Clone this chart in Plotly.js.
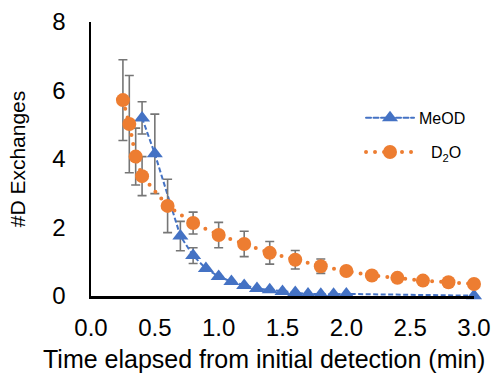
<!DOCTYPE html>
<html><head><meta charset="utf-8">
<script src="https://cdn.plot.ly/plotly-3.0.1.min.js"></script>
<style>
html,body{margin:0;padding:0;background:#fff}
.scatterlayer .trace:nth-child(2) path.js-line{stroke-linecap:round}
</style>
</head><body><div id="chart" style="width:491px;height:376px"></div>
<script>
// MeOD series
const meodTime   = [0.4, 0.5, 0.7, 0.8, 0.9, 1.0, 1.1, 1.2, 1.3, 1.4, 1.5, 1.6, 1.7, 1.8, 1.9, 2.0, 3.0];
const meodValues = [5.20, 4.15, 1.75, 1.18, 0.80, 0.57, 0.42, 0.31, 0.22, 0.18, 0.13, 0.10, 0.06, 0.05, 0.05, 0.06, 0.01];
const meodErr    = [0.47, 1.16, 0.43, 0.23, null, null, null, null, null, null, null, null, null, null, null, null, null];
// D2O series
const d2oTime    = [0.25, 0.3, 0.35, 0.4, 0.6, 0.8, 1.0, 1.2, 1.4, 1.6, 1.8, 2.0, 2.2, 2.4, 2.6, 2.8, 3.0];
const d2oValues  = [5.72, 5.02, 4.07, 3.50, 2.63, 2.13, 1.78, 1.52, 1.26, 1.06, 0.87, 0.73, 0.60, 0.53, 0.45, 0.40, 0.35];
const d2oErr     = [1.18, 1.42, 0.83, 0.57, 0.78, 0.32, 0.37, 0.37, 0.33, 0.27, 0.21, null, null, null, null, null, null];
// axes
const xTickVals = [0, 0.5, 1.0, 1.5, 2.0, 2.5, 3.0];
const xTickText = ['0.0', '0.5', '1.0', '1.5', '2.0', '2.5', '3.0'];
const yTickVals = [0, 2, 4, 6, 8];
const xTitle = 'Time elapsed from initial detection (min)';
const yTitle = '#D Exchanges';
const seriesNames = ['MeOD', '\u2002\u2005D<sub>2</sub>O'];

const FONT = 'Liberation Sans, Arial, sans-serif';
const blue = '#4472C4', orange = '#ED7D31', errCol = '#767676';

const traces = [
  {
    x: meodTime, y: meodValues, name: seriesNames[0], type: 'scatter', mode: 'lines+markers',
    line: {color: blue, width: 2, dash: '5px,2.5px'},
    marker: {symbol: 'triangle-up', size: 14, color: blue},
    error_y: {type: 'data', array: meodErr, visible: true, color: errCol, thickness: 1.6, width: 4.5},
    cliponaxis: false, legend: 'legend'
  },
  {
    x: d2oTime, y: d2oValues, name: seriesNames[1], type: 'scatter', mode: 'lines+markers',
    line: {color: orange, width: 4, dash: '0px,9px'},
    marker: {symbol: 'circle', size: 14, color: orange},
    error_y: {type: 'data', array: d2oErr, visible: true, color: errCol, thickness: 1.6, width: 4.5},
    cliponaxis: false, legend: 'legend2'
  }
];

const layout = {
  width: 491, height: 376,
  margin: {l: 91, r: 17, t: 22, b: 80},
  paper_bgcolor: '#fff', plot_bgcolor: '#fff',
  font: {family: FONT, color: '#000', size: 24},
  showlegend: true,
  xaxis: {
    range: [0, 3], tickvals: xTickVals, ticktext: xTickText,
    showgrid: false, zeroline: false, showline: true, linecolor: '#000', linewidth: 2.5,
    ticks: '', ticklabelstandoff: 9,
    tickfont: {family: FONT, size: 24, color: '#000'}
  },
  yaxis: {
    range: [0, 8], tickvals: yTickVals,
    showgrid: false, zeroline: false, showline: true, linecolor: '#000', linewidth: 2.5,
    ticks: '', ticklabelstandoff: 18,
    tickfont: {family: FONT, size: 24, color: '#000'},
    title: {text: yTitle, font: {family: FONT, size: 21, color: '#000'}, standoff: 21}
  },
  annotations: [{
    text: xTitle, xref: 'paper', yref: 'paper', x: 0.453, y: -0.23,
    xanchor: 'center', yanchor: 'middle', showarrow: false,
    font: {family: FONT, size: 25, color: '#000'}
  }],
  legend: {
    x: 0.705, y: 0.65, xanchor: 'left', yanchor: 'middle',
    bgcolor: 'rgba(0,0,0,0)', font: {family: FONT, size: 16, color: '#000'},
    itemwidth: 48
  },
  legend2: {
    x: 0.705, y: 0.525, xanchor: 'left', yanchor: 'middle',
    bgcolor: 'rgba(0,0,0,0)', font: {family: FONT, size: 16, color: '#000'},
    itemwidth: 48
  }
};

Plotly.newPlot('chart', traces, layout, {displayModeBar: false, staticPlot: true}).then(function(){
  document.querySelectorAll('.legendlines path').forEach(function(p){ p.style.strokeLinecap = 'round'; });
});
</script>
</body></html>
